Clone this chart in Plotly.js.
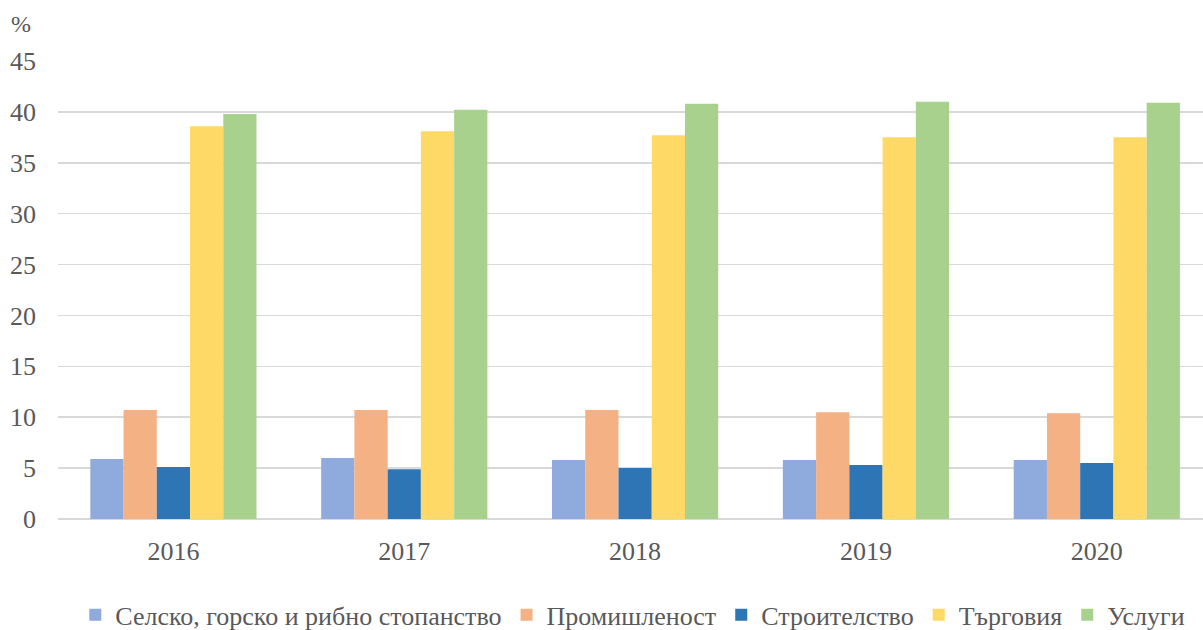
<!DOCTYPE html>
<html>
<head>
<meta charset="utf-8">
<script src="https://cdn.plot.ly/plotly-3.0.1.min.js"></script>
<style>html,body{margin:0;padding:0;background:#fff;overflow:hidden}#chart{width:1203px;height:630px}</style>
</head>
<body>
<div id="chart"></div>
<script>
const years = ["2016", "2017", "2018", "2019", "2020"];
const seriesNames = ["Селско, горско и рибно стопанство", "Промишленост", "Строителство", "Търговия", "Услуги"];
const agriculture = [5.9, 6.0, 5.8, 5.8, 5.8];
const industry = [10.7, 10.7, 10.7, 10.5, 10.4];
const construction = [5.1, 4.9, 5.0, 5.3, 5.5];
const trade = [38.6, 38.1, 37.7, 37.5, 37.5];
const services = [39.8, 40.2, 40.8, 41.0, 40.9];
const colors = ["#8faadc", "#f4b183", "#2e75b6", "#ffd966", "#a9d18e"];

const seriesValues = [agriculture, industry, construction, trade, services];
const traces = seriesValues.map((vals, i) => ({
  type: "bar",
  name: seriesNames[i],
  x: years,
  y: vals,
  marker: {color: colors[i], line: {width: 0}},
  hoverinfo: "x+y+name"
}));

const fam = "Liberation Serif";
const font = {family: fam, size: 26, color: "#595959"};

const layout = {
  width: 1203,
  height: 630,
  margin: {l: 58, r: 0, t: 61, b: 111},
  paper_bgcolor: "#ffffff",
  plot_bgcolor: "#ffffff",
  font: font,
  barmode: "group",
  bargap: 0.28,
  bargroupgap: 0,
  showlegend: true,
  legend: {
    orientation: "h",
    xref: "paper", yref: "container",
    x: 0.502, xanchor: "center",
    y: 0.024, yanchor: "middle",
    font: {family: fam, size: 26, color: "#595959"},
    itemwidth: 30,
    traceorder: "normal"
  },
  xaxis: {
    type: "category",
    range: [-0.5, 4.46],
    showgrid: false,
    showline: false,
    zeroline: false,
    ticks: "",
    tickfont: font,
    ticklabelstandoff: 14
  },
  yaxis: {
    range: [0, 45],
    dtick: 5,
    tick0: 0,
    showgrid: true,
    gridcolor: "#d9d9d9",
    gridwidth: 1.5,
    zeroline: true,
    zerolinecolor: "#d9d9d9",
    zerolinewidth: 1.5,
    showline: false,
    ticks: "",
    tickfont: font,
    ticklabelstandoff: 21
  },
  annotations: [{
    text: "%",
    xref: "paper", yref: "paper",
    x: -0.032, y: 1.08,
    xanchor: "center", yanchor: "middle",
    showarrow: false,
    font: {family: fam, size: 24, color: "#595959"}
  }]
};

Plotly.newPlot("chart", traces, layout, {displayModeBar: false, staticPlot: true});
</script>
</body>
</html>
